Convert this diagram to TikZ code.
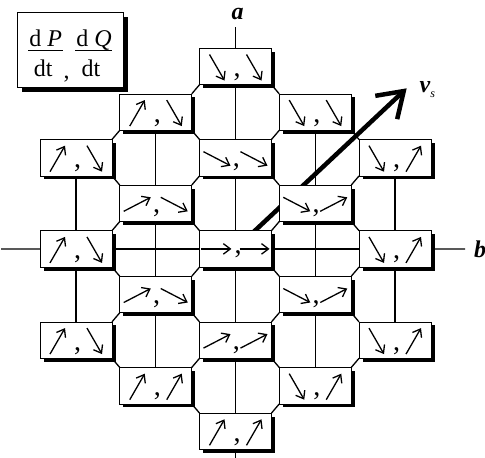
\documentclass[tikz,border=0pt]{standalone}
\usepackage{fontspec}
\setmainfont{Liberation Serif}
\usetikzlibrary{arrows.meta,shadows,backgrounds}
\tikzset{
  cellbox/.style={draw=black, line width=0.6pt, fill=white, minimum width=72pt,
    minimum height=36.5pt, inner sep=0pt, outer sep=0pt,
    general shadow={fill=black, shadow xshift=3.5pt, shadow yshift=-3.5pt}},
  legendbox/.style={draw=black, line width=0.6pt, fill=white, minimum width=106pt,
    minimum height=75pt, inner sep=0pt, outer sep=0pt,
    general shadow={fill=black, shadow xshift=4.5pt, shadow yshift=-4.5pt}},
  gridline/.style={line width=1.3pt},
  cellarrow/.style={line width=1.3pt, -{Straight Barb[length=7pt,width=10.5pt]}},
  vsarrow/.style={line width=4.5pt, -{Straight Barb[length=24pt,width=32pt]}},
  commatext/.style={font=\fontsize{28}{28}\selectfont, inner sep=0pt, anchor=base},
  commaS/.style={xshift=1.5pt, yshift=-10pt},
  commaL/.style={xshift=0.8pt, yshift=-9pt},
  commaH/.style={xshift=2.5pt, yshift=-4.5pt},
  axislabel/.style={font=\fontsize{24}{28}\selectfont\bfseries\itshape, inner sep=0pt},
  legendtext/.style={font=\fontsize{24}{28}\selectfont, inner sep=0pt, anchor=base},
  fracbar/.style={line width=0.9pt}
}
\newcommand\drawSU[1]{\draw[cellarrow] (#1-7.5,14) -- (#1+7.5,-12);}
\newcommand\drawSD[1]{\draw[cellarrow] (#1-7.5,-12) -- (#1+7.5,14);}
\newcommand\drawLU[1]{\draw[cellarrow] (#1-13.5,8) -- (#1+13.5,-6);}
\newcommand\drawLD[1]{\draw[cellarrow] (#1-13.5,-6) -- (#1+13.5,8);}
\newcommand\drawH[1]{\draw[cellarrow] (#1*1.03-15,0) -- (#1*1.03+15,0);}
\begin{document}
\begin{tikzpicture}[x=1pt,y=-1pt]
\useasboundingbox (0,0) rectangle (485,458);

% cells
\foreach \cc/\rr/\ta/\tb/\kk in {2/0/SD/SD/S, 1/1/SU/SD/S, 3/1/SD/SD/S,
  0/2/SU/SD/S, 2/2/LD/LD/L, 4/2/SD/SU/S, 1/3/LU/LD/L, 3/3/LD/LU/L,
  0/4/SU/SD/S, 2/4/H/H/H, 4/4/SD/SU/S, 1/5/LU/LD/L, 3/5/LD/LU/L,
  0/6/SU/SD/S, 2/6/LU/LU/L, 4/6/SD/SU/S, 1/7/SU/SU/S, 3/7/SD/SU/S, 2/8/SU/SU/S}{
  \node[cellbox] (b\cc\rr) at ({76+79.75*\cc},{66.5+45.6*\rr}) {};
  \begin{scope}[shift={(b\cc\rr.center)}]
    \csname draw\ta\endcsname{-18.5}
    \csname draw\tb\endcsname{18.5}
    \node[commatext, comma\kk] (k\cc\rr) at (0,0) {,};
  \end{scope}
}

% axis ends and labels
\coordinate (atop) at (235.5,27);
\coordinate (abot) at (235.5,458);
\coordinate (axL) at (1,248.9);
\coordinate (axR) at (465,248.9);
\coordinate (vstip) at (406.7,88.3);
\node[axislabel] (alabel) at (237.5,14) {a};
\node[axislabel] (blabel) at (480,249) {b};
\node[axislabel, anchor=base west] (vslabel) at (419.5,92)
  {v\raisebox{-5pt}{\fontsize{12}{12}\selectfont\mdseries s}};

% legend
\node[legendbox] (legend) at (70,49.5) {};
\node[legendtext] (n1) at (45.7,46.7) {d \textit{P}};
\node[legendtext] (d1) at (43.3,76.7) {dt};
\node[legendtext] (n2) at (94,46.7) {d \textit{Q}};
\node[legendtext] (d2) at (91,76.7) {dt};
\node[legendtext] (lcomma) at (66.7,78) {,};
\draw[fracbar] (28,50.7) -- (63,50.7);
\draw[fracbar] (75,50.7) -- (112,50.7);

\begin{scope}[on background layer]
  % vertical lines
  \draw[gridline] (atop) -- (b20);
  \draw[gridline] (b20) -- (b22);
  \draw[gridline] (b22) -- (b24);
  \draw[gridline] (b24) -- (b26);
  \draw[gridline] (b26) -- (b28);
  \draw[gridline] (b28) -- (abot);
  \draw[gridline] (b02) -- (b04);
  \draw[gridline] (b04) -- (b06);
  \draw[gridline] (b42) -- (b44);
  \draw[gridline] (b44) -- (b46);
  \draw[gridline] (b11) -- (b13);
  \draw[gridline] (b13) -- (b15);
  \draw[gridline] (b15) -- (b17);
  \draw[gridline] (b31) -- (b33);
  \draw[gridline] (b33) -- (b35);
  \draw[gridline] (b35) -- (b37);
  % horizontal axis
  \draw[gridline] (axL) -- (b04);
  \draw[gridline] (b04) -- (b24);
  \draw[gridline] (b24) -- (b44);
  \draw[gridline] (b44) -- (axR);
  % diagonals down-right
  \foreach \p/\q in {20/31, 11/22, 31/42, 02/13, 22/33, 13/24, 33/44, 04/15,
     24/35, 15/26, 35/46, 06/17, 26/37, 17/28}{
    \draw[gridline] (b\p.south east) -- (b\q.north west);
  }
  % diagonals down-left
  \foreach \p/\q in {20/11, 11/02, 31/22, 22/13, 42/33, 13/04, 33/24, 24/15,
     44/35, 15/06, 35/26, 26/17, 46/37, 37/28}{
    \draw[gridline] (b\p.south west) -- (b\q.north east);
  }
  % velocity arrow
  \draw[vsarrow] (b24.center) -- (vstip);
\end{scope}
\end{tikzpicture}
\end{document}
